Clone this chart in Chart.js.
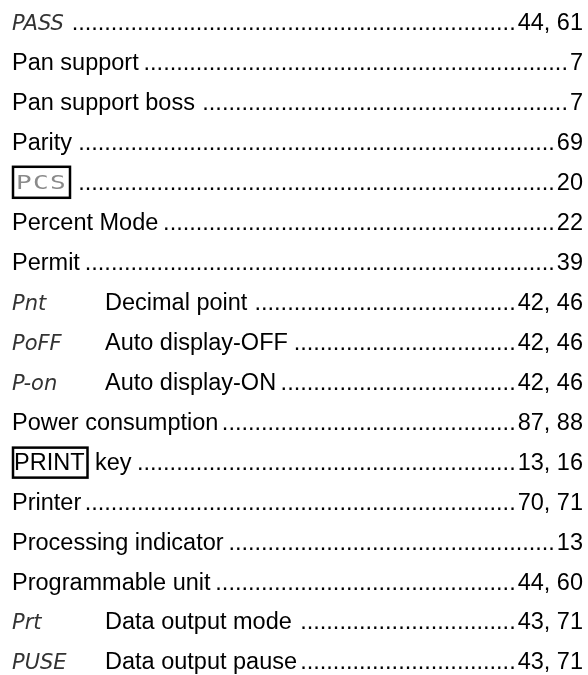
<!DOCTYPE html>
<html>
<head>
<meta charset="utf-8">
<script src="https://cdn.jsdelivr.net/npm/chart.js@4.4.1/dist/chart.umd.min.js"></script>
<style>
  html, body { margin: 0; padding: 0; background: #ffffff; }
  #wrap { position: relative; width: 588px; height: 675px; }
</style>
</head>
<body>
<div id="wrap"><canvas id="c" width="588" height="675"></canvas></div>
<script>
// Index entries, one per row (top to bottom)
const codes = ["PASS", "", "", "", "PCS", "", "", "Pnt", "PoFF", "P-on", "", "PRINT", "", "", "", "Prt", "PUSE"];
const codeKinds = ["seg", "", "", "", "dotbox", "", "", "seg", "seg", "seg", "", "keybox", "", "", "", "seg", "seg"];
const terms = ["", "Pan support", "Pan support boss", "Parity", "", "Percent Mode", "Permit",
  "Decimal point", "Auto display-OFF", "Auto display-ON", "Power consumption", "key",
  "Printer", "Processing indicator", "Programmable unit", "Data output mode", "Data output pause"];
const pages = ["44, 61", "7", "7", "69", "20", "22", "39", "42, 46", "42, 46", "42, 46",
  "87, 88", "13, 16", "70, 71", "13", "44, 60", "43, 71", "43, 71"];
const rowIndex = terms.map((t, i) => i);

const FS = 23.5;
const FONT = FS + 'px "Liberation Sans", Arial, sans-serif';
const SEGFONT = 'italic 21px "DejaVu Sans", sans-serif';
const LEFT = 12, DESC_X = 105, RIGHT = 583;

const indexPlugin = {
  id: 'indexRows',
  afterDraw(chart) {
    const ctx = chart.ctx;
    const ys = chart.scales.y;
    ctx.save();
    ctx.textBaseline = 'alphabetic';
    ctx.font = FONT;
    const dotW = ctx.measureText('.').width;
    rowIndex.forEach((r, i) => {
      const yc = ys.getPixelForValue(r);
      const base = yc + FS * 0.36;
      let x = LEFT;
      const kind = codeKinds[i];
      ctx.textAlign = 'left';
      ctx.fillStyle = '#000';
      if (kind === 'seg') {
        ctx.font = SEGFONT;
        ctx.fillStyle = '#333';
        ctx.fillText(codes[i], LEFT, base);
        x = ctx.measureText(codes[i]).width + LEFT;
        ctx.font = FONT;
        ctx.fillStyle = '#000';
        if (terms[i]) { ctx.fillText(terms[i], DESC_X, base); x = DESC_X + ctx.measureText(terms[i]).width; }
      } else if (kind === 'dotbox') {
        ctx.strokeStyle = '#000';
        ctx.lineWidth = 2.5;
        ctx.strokeRect(LEFT + 1, yc - 14.5, 57, 31);
        ctx.font = '20px "DejaVu Sans Mono", monospace';
        ctx.fillStyle = '#8a8a8a';
        const chars = codes[i].split('');
        chars.forEach((ch, k) => {
          ctx.save();
          ctx.translate(LEFT + 4 + k * 17, yc + 8);
          ctx.scale(1.3, 1);
          ctx.fillText(ch, 0, 0);
          ctx.restore();
        });
        ctx.font = FONT;
        ctx.fillStyle = '#000';
        x = LEFT + 60;
      } else if (kind === 'keybox') {
        const w = ctx.measureText(codes[i]).width;
        ctx.fillText(codes[i], LEFT + 2, base);
        ctx.strokeStyle = '#000';
        ctx.lineWidth = 2.5;
        ctx.strokeRect(LEFT + 1, yc - 13.5, w + 4, 30);
        const kx = LEFT + w + 6 + ctx.measureText(' ').width;
        ctx.fillText(terms[i], kx, base);
        x = kx + ctx.measureText(terms[i]).width;
      } else {
        ctx.fillText(terms[i], LEFT, base);
        x = LEFT + ctx.measureText(terms[i]).width;
      }
      // page numbers
      ctx.textAlign = 'right';
      ctx.fillText(pages[i], RIGHT, base);
      const pw = ctx.measureText(pages[i]).width;
      ctx.textAlign = 'left';
      // leader dots
      const start = x + 2;
      const end = RIGHT - pw - 2;
      const n = Math.max(0, Math.floor((end - start) / dotW));
      ctx.fillText('.'.repeat(n), end - n * dotW, base);
    });
    ctx.restore();
  }
};

new Chart(document.getElementById('c'), {
  type: 'scatter',
  data: {
    datasets: [{ data: rowIndex.map(r => ({ x: 0, y: r })), pointRadius: 0, showLine: false }]
  },
  options: {
    responsive: false,
    animation: false,
    layout: { padding: { top: 1, bottom: 0, left: 0, right: 0 } },
    plugins: { legend: { display: false }, tooltip: { enabled: false } },
    scales: {
      x: { display: false, min: 0, max: 1 },
      y: { display: false, reverse: true, min: -0.51, max: 16.35 }
    }
  },
  plugins: [indexPlugin]
});
</script>
</body>
</html>
